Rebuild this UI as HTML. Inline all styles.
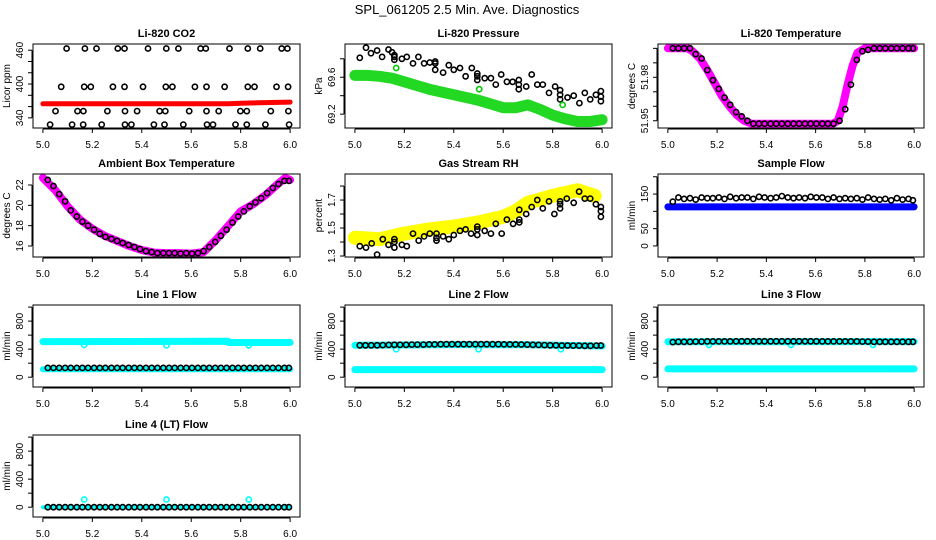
<!DOCTYPE html>
<html><head><meta charset="utf-8"><style>
html,body{margin:0;padding:0;background:#fff;}
svg{display:block;font-family:"Liberation Sans",Arial,sans-serif;}
</style></head><body>
<svg id="c" width="936" height="540" viewBox="0 0 936 540">
<text x="467" y="14" text-anchor="middle" font-size="13">SPL_061205  2.5 Min. Ave. Diagnostics</text>
</svg>
<script>
// ---- shared sample times (black points) ----
const sampleTimes = [5.02,5.043,5.066,5.09,5.113,5.137,5.16,5.183,5.207,5.23,5.253,5.277,5.3,5.323,5.347,5.37,5.393,5.417,5.44,5.463,5.487,5.51,5.533,5.557,5.58,5.603,5.627,5.65,5.673,5.697,5.72,5.743,5.767,5.79,5.813,5.837,5.86,5.883,5.907,5.93,5.953,5.977,5.995];
const xTicks = [5.0,5.2,5.4,5.6,5.8,6.0];
const xTickLabels = ["5.0","5.2","5.4","5.6","5.8","6.0"];

// CO2
const co2PtsX = [5.096,5.170,5.217,5.303,5.330,5.425,5.499,5.548,5.638,5.659,5.755,5.829,5.879,5.966,5.989,
 5.074,5.167,5.194,5.283,5.330,5.405,5.497,5.524,5.615,5.662,5.735,5.829,5.856,5.945,5.992,
 5.051,5.140,5.164,5.261,5.332,5.381,5.472,5.495,5.592,5.662,5.711,5.799,5.825,5.922,5.993,
 5.029,5.118,5.163,5.238,5.332,5.358,5.449,5.492,5.568,5.664,5.688,5.779,5.825,5.900,5.996];
const co2PtsY = [463,463,463,463,463,463,463,463,463,463,463,463,463,463,463,
 395,395,395,395,395,395,395,395,395,395,395,395,395,395,395,
 352,352,352,352,352,352,352,352,352,352,352,352,352,352,352,
 328,328,328,328,328,328,328,328,328,328,328,328,328,328,328];
const co2BandX = [5.0,5.2,5.4,5.6,5.75,5.8,5.9,6.0];
const co2BandY = [365,365,365,365,365,366,367,368];

// Pressure
const presPtsX = [5.02,5.045,5.065,5.09,5.11,5.136,5.15,5.16,5.16,5.16,5.19,5.21,5.235,5.257,5.28,5.303,5.325,5.325,5.325,5.357,5.38,5.40,5.425,5.448,5.473,5.495,5.495,5.495,5.525,5.55,5.57,5.592,5.615,5.638,5.663,5.663,5.663,5.693,5.715,5.738,5.76,5.785,5.81,5.83,5.83,5.83,5.86,5.885,5.908,5.93,5.952,5.975,5.995,5.995,5.995];
const presPtsY = [69.81,69.92,69.86,69.89,69.82,69.90,69.87,69.84,69.79,69.82,69.80,69.82,69.75,69.82,69.75,69.76,69.75,69.77,69.68,69.65,69.73,69.68,69.70,69.61,69.70,69.64,69.57,69.61,69.59,69.59,69.52,69.63,69.55,69.55,69.57,69.52,69.47,69.50,69.63,69.52,69.52,69.43,69.50,69.46,69.41,69.36,69.38,69.40,69.32,69.43,69.36,69.41,69.45,69.39,69.34];
const presGreenPtsX = [5.167,5.503,5.84];
const presGreenPtsY = [69.70,69.47,69.30];
const presBandX = [5.0,5.05,5.1,5.15,5.2,5.25,5.3,5.35,5.4,5.45,5.5,5.55,5.6,5.65,5.7,5.75,5.8,5.85,5.9,5.95,6.0];
const presBandY = [69.62,69.62,69.61,69.59,69.55,69.51,69.47,69.44,69.41,69.38,69.35,69.31,69.27,69.27,69.30,69.25,69.19,69.15,69.12,69.12,69.14];

// Li-820 temperature
const tempBandX = [5.0,5.05,5.08,5.1,5.13,5.16,5.19,5.22,5.25,5.28,5.31,5.34,5.4,5.5,5.6,5.67,5.69,5.71,5.73,5.75,5.77,5.8,5.9,6.0];
const tempBandY = [52.0,52.0,52.0,51.998,51.993,51.985,51.976,51.967,51.96,51.954,51.95,51.948,51.948,51.948,51.948,51.948,51.95,51.96,51.975,51.988,51.997,52.0,52.0,52.0];
const tempPtsY = [52.0,52.0,52.0,52.0,51.996,51.993,51.985,51.978,51.972,51.966,51.961,51.956,51.953,51.95,51.948,51.948,51.948,51.948,51.948,51.948,51.948,51.948,51.948,51.948,51.948,51.948,51.948,51.948,51.948,51.95,51.958,51.975,51.992,51.998,51.999,52.0,52.0,52.0,52.0,52.0,52.0,52.0,52.0];

// Ambient box temperature
const ambBandX = [5.0,5.05,5.1,5.15,5.2,5.25,5.3,5.35,5.4,5.45,5.5,5.55,5.6,5.65,5.7,5.75,5.8,5.85,5.9,5.95,5.98,6.0];
const ambBandY = [22.7,21.5,19.9,18.6,17.7,17.0,16.5,16.0,15.6,15.35,15.3,15.3,15.25,15.4,16.6,18.0,19.4,20.1,21.0,22.1,22.7,22.5];
const ambPtsY = [22.5,21.9,21.1,20.4,19.5,18.9,18.4,18.0,17.6,17.2,16.9,16.7,16.5,16.3,16.1,15.9,15.7,15.5,15.4,15.3,15.3,15.3,15.3,15.25,15.3,15.25,15.3,15.5,15.9,16.4,17.0,17.6,18.3,18.9,19.4,19.9,20.3,20.7,21.2,21.7,22.1,22.4,22.4];

// Gas stream RH
const rhPtsX = [5.02,5.045,5.068,5.09,5.113,5.136,5.16,5.16,5.16,5.19,5.21,5.235,5.258,5.28,5.303,5.33,5.33,5.33,5.357,5.38,5.40,5.425,5.448,5.47,5.495,5.495,5.495,5.525,5.55,5.57,5.594,5.615,5.64,5.665,5.665,5.665,5.693,5.715,5.738,5.76,5.785,5.807,5.83,5.83,5.83,5.857,5.885,5.907,5.93,5.952,5.975,5.995,5.995,5.995];
const rhPtsY = [1.37,1.36,1.39,1.31,1.42,1.38,1.42,1.40,1.36,1.38,1.37,1.46,1.41,1.44,1.46,1.46,1.43,1.41,1.44,1.42,1.45,1.48,1.49,1.46,1.49,1.51,1.45,1.48,1.46,1.53,1.46,1.56,1.53,1.56,1.54,1.63,1.60,1.65,1.70,1.64,1.69,1.60,1.67,1.69,1.64,1.71,1.68,1.76,1.71,1.71,1.67,1.65,1.62,1.58];
const rhBandX = [5.0,5.1,5.2,5.3,5.4,5.5,5.6,5.65,5.7,5.8,5.9,5.97];
const rhBandY = [1.43,1.42,1.46,1.49,1.51,1.54,1.58,1.62,1.68,1.73,1.77,1.73];

// Sample flow
const sfPtsY = [128,140,136,138,134,140,138,138,140,136,142,138,140,140,136,142,140,138,140,144,140,138,140,138,142,140,140,136,140,136,138,136,138,134,140,136,134,136,132,138,134,136,132];
const sfBandX = [5.0,6.0];
const sfBandY = [113,113];

// Line flows
const l1PtsY = [133,133,133,133,133,133,133,133,133,133,133,133,133,133,133,133,133,133,133,133,133,133,133,133,133,133,133,133,133,133,133,133,133,133,133,133,133,133,133,133,133,133,133];
const l1UpperX = [5.0,5.75,5.75,6.0];
const l1UpperY = [508,512,495,495];
const l1LowerX = [5.0,6.0];
const l1LowerY = [112,112];
const dipX = [5.167,5.5,5.833];
const l1DipY = [460,455,455];

const l2PtsY = [455,455,455,455,458,460,462,462,462,465,465,465,468,468,470,470,470,470,470,470,470,470,470,470,470,468,468,468,466,465,462,460,458,455,455,452,452,450,450,448,448,450,452];
const l2UpperX = [5.0,5.4,5.7,6.0];
const l2UpperY = [455,465,462,445];
const l2LowerX = [5.0,6.0];
const l2LowerY = [108,108];
const l2DipY = [400,400,400];

const l3PtsY = [500,505,505,505,508,508,510,510,510,510,510,512,512,512,512,512,512,512,512,512,512,512,512,512,512,512,510,510,510,510,510,510,510,508,508,505,505,505,505,505,505,505,505];
const l3UpperX = [5.0,6.0];
const l3UpperY = [505,508];
const l3LowerX = [5.0,6.0];
const l3LowerY = [118,118];
const l3DipY = [460,460,460];

const l4PtsY = [0,0,0,0,0,0,0,0,0,0,0,0,0,0,0,0,0,0,0,0,0,0,0,0,0,0,0,0,0,0,0,0,0,0,0,0,0,0,0,0,0,0,0];
const l4BandX = [5.0,6.0];
const l4BandY = [0,0];
const l4DipY = [110,110,110];

const flowTicks = [0,200,400,600,800,1000];
const flowLabels = ["0","","400","","800",""];

const svg = document.getElementById('c');
const NS = 'http://www.w3.org/2000/svg';
function mk(tag, attrs, parent){const e=document.createElementNS(NS,tag);for(const k in attrs)e.setAttribute(k,attrs[k]);(parent||svg).appendChild(e);return e;}

const cols=[[33,300],[345,612],[658,924]];
const rows=[[44,128],[174,257],[305,387],[435,517]];

function panel(cfg){
  const [x0,x1]=cols[cfg.col],[y0,y1]=rows[cfg.row];
  const g=mk('g',{});
  
  
  const xs=v=>x0+(v-4.96)/1.08*(x1-x0);
  const ys=v=>y1-(v-cfg.ymin)/(cfg.ymax-cfg.ymin)*(y1-y0);
  const t=mk('text',{x:(x0+x1)/2,y:y0-7,'text-anchor':'middle','font-size':11,'font-weight':'bold'},g);
  t.textContent=cfg.title;
  
  
  (cfg.bands||[]).forEach(b=>{
    const pts=b.x.map((v,i)=>xs(v).toFixed(1)+','+ys(b.y[i]).toFixed(1)).join(' ');
    const pl=mk('polyline',{points:pts,fill:'none',stroke:b.color,'stroke-width':b.w,'stroke-linecap':'round','stroke-linejoin':'round'},g);
    
    
  });
  (cfg.points||[]).forEach(p=>{
    const n=Math.min(p.x.length,p.y.length);
    for(let i=0;i<n;i++){
      const c=mk('circle',{cx:xs(p.x[i]).toFixed(1),cy:ys(p.y[i]).toFixed(1),r:2.6,fill:'none',stroke:p.color,'stroke-width':1.6},g);
      
      
    }
  });
  const bx=mk('rect',{x:x0,y:y0,width:x1-x0,height:y1-y0,fill:'none',stroke:'#000','stroke-width':1},g);
  
  
  const xa=mk('g',{},g);
  
  
  mk('line',{x1:xs(xTicks[0]),x2:xs(xTicks[xTicks.length-1]),y1:y1+1,y2:y1+1,stroke:'#000'},xa);
  xTicks.forEach((v,i)=>{
    mk('line',{x1:xs(v),x2:xs(v),y1:y1+1,y2:y1+5,stroke:'#000'},xa);
    const l=mk('text',{x:xs(v),y:y1+20,'text-anchor':'middle','font-size':10},xa);
    l.textContent=xTickLabels[i];
  });
  const ya=mk('g',{},g);
  
  
  const tk=cfg.yticks;
  mk('line',{x1:x0-1,x2:x0-1,y1:ys(tk[0]),y2:ys(tk[tk.length-1]),stroke:'#000'},ya);
  tk.forEach((v,i)=>{
    mk('line',{x1:x0-1,x2:x0-5,y1:ys(v),y2:ys(v),stroke:'#000'},ya);
    if(cfg.ylabels[i]){
      const yy=ys(v);
      const l=mk('text',{x:x0-10,y:yy,'text-anchor':'middle','font-size':10,transform:`rotate(-90 ${x0-10} ${yy})`},ya);
      l.textContent=cfg.ylabels[i];
    }
  });
  const yc=(y0+y1)/2;
  const yt=mk('text',{x:x0-23,y:yc,'text-anchor':'middle','font-size':10,transform:`rotate(-90 ${x0-23} ${yc})`},g);
  yt.textContent=cfg.ytitle;
  
  
}

const flowY={ymin:-140,ymax:1030,yticks:flowTicks,ylabels:flowLabels,ytitle:'ml/min'};
panel({name:'co2-panel',col:0,row:0,title:'Li-820 CO2',ymin:322,ymax:471,yticks:[340,360,380,400,420,440,460],ylabels:['340','','','400','','','460'],ytitle:'Licor ppm',
  bands:[{name:'co2-band',x:co2BandX,y:co2BandY,color:'#ff0000',w:5}],
  points:[{name:'co2-point',x:co2PtsX,y:co2PtsY,color:'#000'}]});
panel({name:'pressure-panel',col:1,row:0,title:'Li-820 Pressure',ymin:69.05,ymax:69.96,yticks:[69.2,69.4,69.6,69.8],ylabels:['69.2','','69.6',''],ytitle:'kPa',
  bands:[{name:'pressure-band',x:presBandX,y:presBandY,color:'#22d822',w:11}],
  points:[{name:'pressure-point',x:presPtsX,y:presPtsY,color:'#000'},{name:'pressure-green-point',x:presGreenPtsX,y:presGreenPtsY,color:'#00cc00'}]});
panel({name:'li820-temp-panel',col:2,row:0,title:'Li-820 Temperature',ymin:51.945,ymax:52.003,yticks:[51.95,51.96,51.97,51.98,51.99,52.0],ylabels:['51.95','','','51.98','',''],ytitle:'degrees C',
  bands:[{name:'temp-band',x:tempBandX,y:tempBandY,color:'#ff00ff',w:8}],
  points:[{name:'temp-point',x:sampleTimes,y:tempPtsY,color:'#000'}]});
panel({name:'ambient-temp-panel',col:0,row:1,title:'Ambient Box Temperature',ymin:14.92,ymax:23.08,yticks:[16,18,20,22],ylabels:['16','18','20','22'],ytitle:'degrees C',
  bands:[{name:'ambient-band',x:ambBandX,y:ambBandY,color:'#ff00ff',w:8}],
  points:[{name:'ambient-point',x:sampleTimes,y:ambPtsY,color:'#000'}]});
panel({name:'rh-panel',col:1,row:1,title:'Gas Stream RH',ymin:1.293,ymax:1.886,yticks:[1.3,1.4,1.5,1.6,1.7,1.8],ylabels:['1.3','','1.5','','1.7',''],ytitle:'percent',
  bands:[{name:'rh-band',x:rhBandX,y:rhBandY,color:'#ffff00',w:14}],
  points:[{name:'rh-point',x:rhPtsX,y:rhPtsY,color:'#000'}]});
panel({name:'sample-flow-panel',col:2,row:1,title:'Sample Flow',ymin:-32,ymax:208,yticks:[0,50,100,150,200],ylabels:['0','50','','150',''],ytitle:'ml/min',
  bands:[{name:'sample-flow-band',x:sfBandX,y:sfBandY,color:'#0000ff',w:7}],
  points:[{name:'sample-flow-point',x:sampleTimes,y:sfPtsY,color:'#000'}]});
panel(Object.assign({name:'line1-flow-panel',col:0,row:2,title:'Line 1 Flow',
  bands:[{name:'line1-upper-band',x:l1UpperX,y:l1UpperY,color:'#00ffff',w:7},{name:'line1-lower-band',x:l1LowerX,y:l1LowerY,color:'#00ffff',w:6}],
  points:[{name:'line1-dip-point',x:dipX,y:l1DipY,color:'#00ffff'},{name:'line1-point',x:sampleTimes,y:l1PtsY,color:'#000'}]},flowY));
panel(Object.assign({name:'line2-flow-panel',col:1,row:2,title:'Line 2 Flow',
  bands:[{name:'line2-upper-band',x:l2UpperX,y:l2UpperY,color:'#00ffff',w:7},{name:'line2-lower-band',x:l2LowerX,y:l2LowerY,color:'#00ffff',w:7}],
  points:[{name:'line2-dip-point',x:dipX,y:l2DipY,color:'#00ffff'},{name:'line2-point',x:sampleTimes,y:l2PtsY,color:'#000'}]},flowY));
panel(Object.assign({name:'line3-flow-panel',col:2,row:2,title:'Line 3 Flow',
  bands:[{name:'line3-upper-band',x:l3UpperX,y:l3UpperY,color:'#00ffff',w:7},{name:'line3-lower-band',x:l3LowerX,y:l3LowerY,color:'#00ffff',w:7}],
  points:[{name:'line3-dip-point',x:dipX,y:l3DipY,color:'#00ffff'},{name:'line3-point',x:sampleTimes,y:l3PtsY,color:'#000'}]},flowY));
panel(Object.assign({name:'line4-flow-panel',col:0,row:3,title:'Line 4 (LT) Flow',
  bands:[{name:'line4-band',x:l4BandX,y:l4BandY,color:'#00ffff',w:4}],
  points:[{name:'line4-dip-point',x:dipX,y:l4DipY,color:'#00ffff'},{name:'line4-point',x:sampleTimes,y:l4PtsY,color:'#000'}]},flowY));
</script>
</body></html>
